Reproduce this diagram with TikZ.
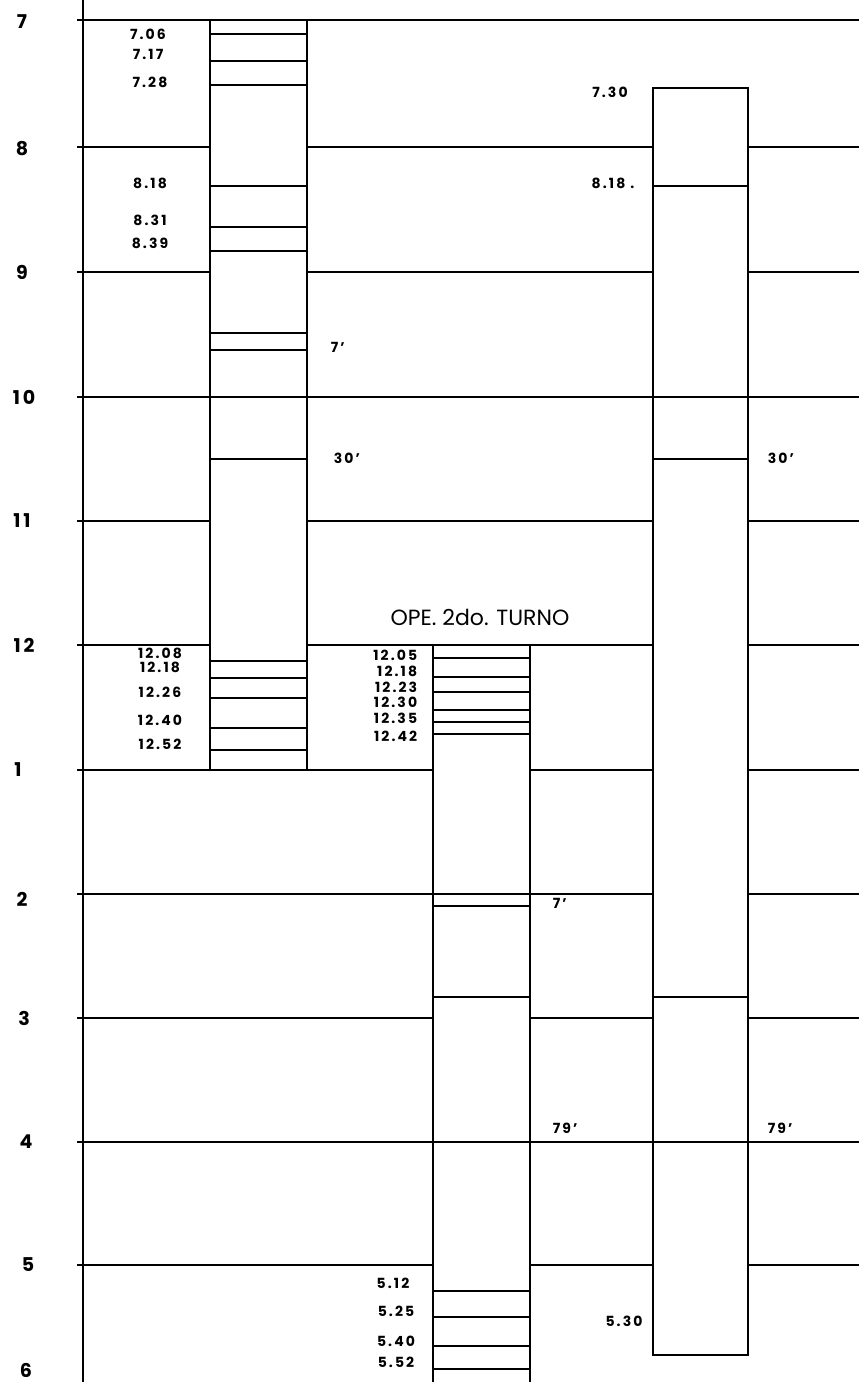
\documentclass[tikz,border=0pt]{standalone}
\usepackage{fontspec}
\setmainfont{Poppins}
\usepackage{tikz}
\usetikzlibrary{positioning}

\begin{document}
\begin{tikzpicture}[
    x=1pt, y=-1pt,
    line width=1.7pt,
    hour/.style={font=\bfseries\fontsize{19}{19}\selectfont\addfontfeatures{LetterSpace=15}},
    tm/.style={font=\bfseries\fontsize{14}{14}\selectfont\addfontfeatures{LetterSpace=15},
        inner sep=0pt},
    tmr/.style={tm, anchor=east},
    lap/.style={tm, anchor=west},
    title/.style={font=\fontsize{22}{22}\selectfont}
]
    \useasboundingbox (0,0) rectangle (859,1382);

    % time axis
    \draw (83,0) -- (83,1382);
    \node[hour] (h7)  at (22,22)   {7};
    \node[hour] (h8)  at (22,149)  {8};
    \node[hour] (h9)  at (22,272)  {9};
    \node[hour] (h10) at (24,397)  {10};
    \node[hour] (h11) at (22,521)  {11};
    \node[hour] (h12) at (24,645)  {12};
    \node[hour] (h1)  at (18,770)  {1};
    \node[hour] (h2)  at (22,899)  {2};
    \node[hour] (h3)  at (24,1018) {3};
    \node[hour] (h4)  at (26,1142) {4};
    \node[hour] (h5)  at (28,1265) {5};
    \node[hour] (h6)  at (26,1370) {6};

    % hour lines
    \draw (77,20) -- (859,20);
    \draw (77,397) -- (859,397);
    \draw (77,1142) -- (859,1142);
    \foreach \y in {147,272,521}
        \draw (77,\y) -- (210,\y) (307,\y) -- (653,\y) (748,\y) -- (859,\y);
    \draw (77,645) -- (210,645) (307,645) -- (433,645) (530,645) -- (653,645) (748,645) -- (859,645);
    \draw (77,894) -- (653,894) (748,894) -- (859,894);
    \foreach \y in {770,1018,1265}
        \draw (77,\y) -- (433,\y) (530,\y) -- (653,\y) (748,\y) -- (859,\y);

    % first shift
    \draw (210,20) rectangle (307,770);
    \foreach \y in {34,61,85,186,227,251,333,350,459,661,678,698,728,750}
        \draw (210,\y) -- (307,\y);
    \node[tm] (t706) at (148,34)  {7.06};
    \node[tm] (t717) at (148,54)  {7.17};
    \node[tm] (t728) at (150,82)  {7.28};
    \node[tm] (t818) at (150,183) {8.18};
    \node[tm] (t831) at (150,220) {8.31};
    \node[tm] (t839) at (150,243) {8.39};
    \node[tm] (t1208) at (160,653) {12.08};
    \node[tm] (t1218) at (160,667) {12.18};
    \node[tm] (t1226) at (160,692) {12.26};
    \node[tm] (t1240) at (160,720) {12.40};
    \node[tm] (t1252) at (160,744) {12.52};
    \node[lap] (p7a)  at (330,347) {7'};
    \node[lap] (p30a) at (333,458) {30'};

    % second shift
    \node[title] (ope) at (480,617) {OPE. 2do. TURNO};
    \draw (433,1382) -- (433,645) -- (530,645) -- (530,1382);
    \foreach \y in {658,677,692,710,722,734,906,997,1291,1317,1346,1369}
        \draw (433,\y) -- (530,\y);
    \node[tmr] (s1205) at (418,655) {12.05};
    \node[tmr] (s1218) at (418,671) {12.18};
    \node[tmr] (s1223) at (418,687) {12.23};
    \node[tmr] (s1230) at (418,702) {12.30};
    \node[tmr] (s1235) at (418,718) {12.35};
    \node[tmr] (s1242) at (418,736) {12.42};
    \node[tm] (s512) at (393,1283) {5.12};
    \node[tm] (s525) at (396,1311) {5.25};
    \node[tm] (s540) at (396,1341) {5.40};
    \node[tm] (s552) at (396,1362) {5.52};
    \node[lap] (p7b)  at (552,903)  {7'};
    \node[lap] (p79b) at (552,1128) {79'};

    % third column
    \draw (653,88) rectangle (748,1355);
    \foreach \y in {186,459,997}
        \draw (653,\y) -- (748,\y);
    \node[tm] (r730) at (610,92)   {7.30};
    \node[tm] (r818) at (613,183)  {8.18 .};
    \node[tm] (r530) at (624,1321) {5.30};
    \node[lap] (p30c) at (767,458)  {30'};
    \node[lap] (p79c) at (767,1128) {79'};
\end{tikzpicture}
\end{document}
